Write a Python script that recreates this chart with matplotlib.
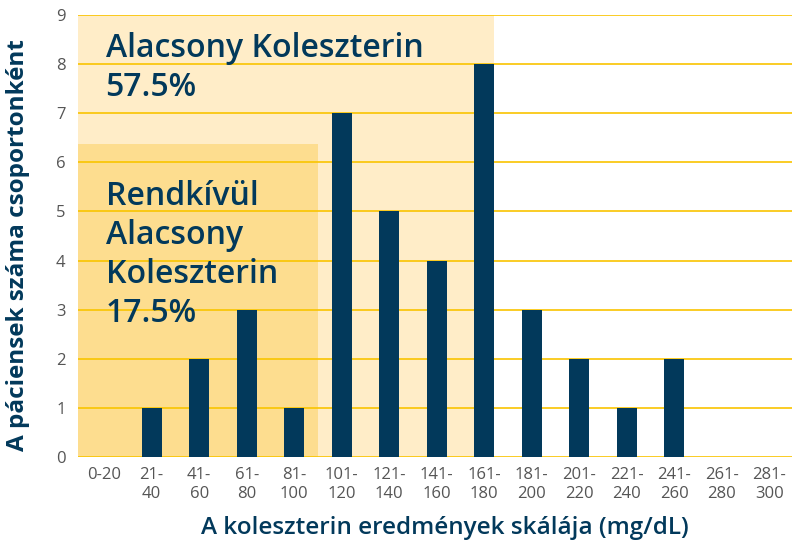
import matplotlib
matplotlib.use("Agg")
import matplotlib.pyplot as plt
from matplotlib.patches import Rectangle

categories = ["0-20", "21-\n40", "41-\n60", "61-\n80", "81-\n100", "101-\n120", "121-\n140",
              "141-\n160", "161-\n180", "181-\n200", "201-\n220", "221-\n240", "241-\n260",
              "261-\n280", "281-\n300"]
counts = [0, 1, 2, 3, 1, 7, 5, 4, 8, 3, 2, 1, 2, 0, 0]
yticks = [0, 1, 2, 3, 4, 5, 6, 7, 8, 9]

navy = "#02395B"
gold = "#F9C400"

plt.rcParams['font.family'] = ['Open Sans', 'DejaVu Sans']

fig = plt.figure(figsize=(7.92, 5.45), dpi=100)
ax = fig.add_axes([78/792, 1 - 457/545, 1 - 78/792, (457 - 15)/545])

x = list(range(len(categories)))
ax.set_xlim(-0.55, 14.48)
ax.set_ylim(0, 9)

# highlight regions
ax.add_patch(Rectangle((-0.55, 0), 8.21 + 0.55, 9, facecolor="#FFEDC8", edgecolor="none", zorder=0))
ax.add_patch(Rectangle((-0.55, 0), 4.5 + 0.55, 6.38, facecolor="#FDDD8F", edgecolor="none", zorder=0.5))

ax.set_yticks(yticks)
ax.grid(axis='y', color=gold, linewidth=1.2, zorder=1)
ax.set_axisbelow(False)
ax.bar(x, counts, width=0.42, color=navy, zorder=3)

ax.set_xticks(x)
ax.set_xticklabels(categories, fontsize=12, color="#555555", linespacing=1.3)
ax.tick_params(axis='y', labelsize=12, labelcolor="#555555", length=0, pad=9)
ax.tick_params(axis='x', length=0, pad=7)
for s in ax.spines.values():
    s.set_visible(False)

ax.text(0.03, 8.65, "Alacsony Koleszterin\n57.5%", fontsize=23, fontweight='semibold',
        color=navy, va='top', ha='left', linespacing=1.25, zorder=4)
ax.text(0.03, 5.65, "Rendkívül\nAlacsony\nKoleszterin\n17.5%", fontsize=23, fontweight='semibold',
        color=navy, va='top', ha='left', linespacing=1.25, zorder=4)

fig.text(18/792, 1 - 245/545, "A páciensek száma csoportonként", rotation=90, fontsize=17.5,
         fontweight='bold', color=navy, ha='center', va='center')
fig.text(445/792, 1 - 528/545, "A koleszterin eredmények skálája (mg/dL)", fontsize=17.5,
         fontweight='semibold', color=navy, ha='center', va='center')

fig.savefig("out.png", dpi=100)
